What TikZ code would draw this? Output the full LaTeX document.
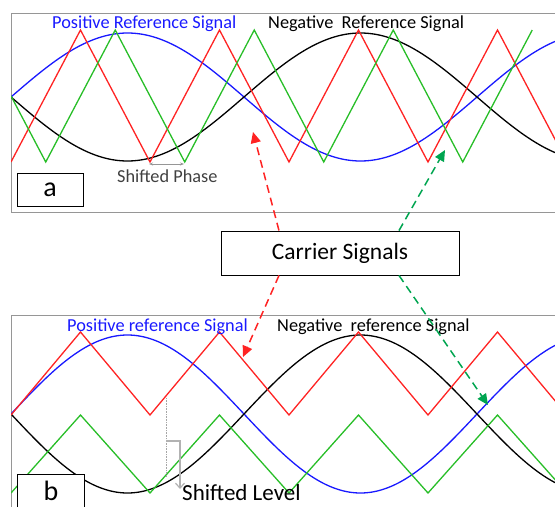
\documentclass[tikz,border=0pt]{standalone}
\usepackage{fontspec}
\setmainfont{Carlito}
\usetikzlibrary{arrows.meta,positioning}
\definecolor{sigred}{RGB}{255,35,35}
\definecolor{siggreen}{RGB}{40,190,40}
\definecolor{sigblue}{RGB}{25,25,255}
\definecolor{arrgreen}{RGB}{0,165,80}
\definecolor{framegray}{RGB}{150,150,150}
\newcommand{\fs}[1]{\fontsize{#1}{#1}\selectfont}

\begin{document}
\begin{tikzpicture}[x=1pt,y=-1pt,
  wave/.style={line width=1.3pt},
  frame/.style={draw=framegray,line width=1pt},
  tag/.style={draw,fill=white,line width=0.9pt,inner sep=0pt},
  lbl/.style={anchor=base west,inner sep=0pt},
  pointer/.style={dash pattern=on 8pt off 5pt,line width=1.5pt,-{Triangle[length=11pt,width=10pt]}}]
\useasboundingbox (0,0) rectangle (555,507);

% panel a
\draw[frame] (555,13) -- (11,13) -- (11,212) -- (555,212);
\begin{scope}
\clip (11,13) rectangle (555,212);
\draw[wave,sigblue] plot[domain=11:555,samples=120,smooth] (\x,{97-64*sin((\x-11)/466*360)});
\draw[wave,black] plot[domain=11:555,samples=120,smooth] (\x,{97+64*sin((\x-11)/466*360)});
\draw[wave,sigred] (11,162) foreach \k in {1,...,8} {-- ({11+69.5*\k},{96+66*cos(180*\k)})};
\draw[wave,siggreen] (11,96) foreach \k in {0,...,7} {-- ({45.75+69.5*\k},{96+66*cos(180*\k)})};
\end{scope}
\node[lbl,text=sigblue,font=\fs{18.3}] (posA) at (52,28.5) {Positive Reference Signal};
\node[lbl,font=\fs{18.3}] (negA) at (268,28.5) {Negative~ Reference Signal};
\coordinate (phL) at (149,164);
\coordinate (phR) at (184,164);
\draw[framegray,line width=1pt,{Stealth[length=4pt]}-{Stealth[length=4pt]}] (phL) -- (phR);
\node[lbl,text=black!75,font=\fs{18.3}] (phase) at (117,182) {Shifted Phase};
\node[tag,minimum width=66pt,minimum height=33pt,font=\fs{28}] (tagA) at (50,189.5) {a};

% panel b
\draw[frame] (555,315) -- (11,315) -- (11,507);
\begin{scope}
\clip (11,315) rectangle (555,507);
\draw[wave,sigblue] plot[domain=11:555,samples=120,smooth] (\x,{414-79*sin((\x-11)/466*360)});
\draw[wave,black] plot[domain=11:555,samples=120,smooth] (\x,{414+79*sin((\x-11)/466*360)});
\draw[wave,sigred] (11,415) foreach \k in {1,...,8} {-- ({11+69.5*\k},{373.5+41.5*cos(180*\k)})};
\draw[wave,siggreen] (11,493) foreach \k in {1,...,8} {-- ({11+69.5*\k},{454+39*cos(180*\k)})};
\end{scope}
\node[lbl,text=sigblue,font=\fs{18.3}] (posB) at (67,331) {Positive reference Signal};
\node[lbl,font=\fs{18.3}] (negB) at (277,331) {Negative~ reference Signal};
\coordinate (lvTop) at (166,398);
\coordinate (lvBot) at (166,477);
\coordinate (lvMid) at (166,441);
\coordinate (lvEnd) at (180,489);
\draw[gray!70,densely dotted,line width=0.6pt] (lvTop) -- (lvBot);
\draw[gray!60,line width=1.2pt,-{Straight Barb[length=5pt,width=9pt]}] (lvMid) -| (lvEnd);
\node[lbl,font=\fs{23}] (level) at (182,500) {Shifted Level};
\node[fill=white,inner sep=0pt,minimum width=66pt,minimum height=32pt,font=\fs{28}] (tagB) at (51,491) {b};
\draw[line width=0.9pt] (tagB.south west) |- (tagB.north east) -- (tagB.south east);

% carrier pointers
\node[tag,minimum width=238pt,minimum height=44pt,font=\fs{23.5}] (carrier) at (340,253) {Carrier Signals};
\coordinate (redA) at (253,132);
\coordinate (redB) at (243,357);
\coordinate (grnA) at (445,150);
\coordinate (grnB) at (488,405);
\draw[pointer,sigred] ([xshift=-61pt]carrier.north) -- (redA);
\draw[pointer,sigred] ([xshift=-61pt]carrier.south) -- (redB);
\draw[pointer,arrgreen] ([xshift=59pt]carrier.north) -- (grnA);
\draw[pointer,arrgreen] ([xshift=59pt]carrier.south) -- (grnB);
\end{tikzpicture}
\end{document}
